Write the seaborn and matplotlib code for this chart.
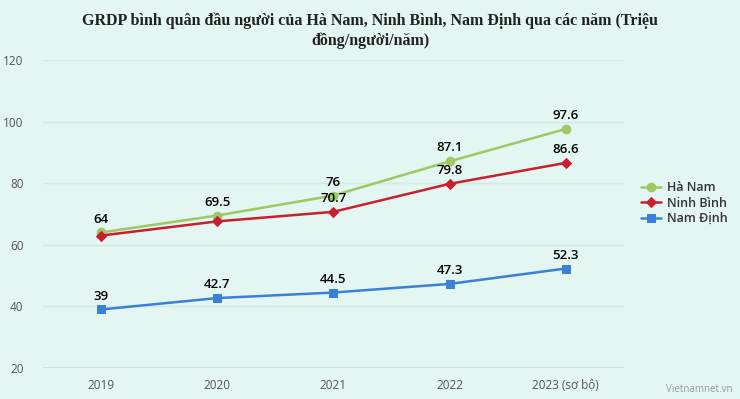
import numpy as np
import pandas as pd
import seaborn as sns
import matplotlib.pyplot as plt

# data
years = ['2019', '2020', '2021', '2022', '2023 (sơ bộ)']
ha_nam = [64, 69.5, 76, 87.1, 97.6]
ninh_binh = [63, 67.6, 70.7, 79.8, 86.6]
nam_dinh = [39, 42.7, 44.5, 47.3, 52.3]
series = ['Hà Nam', 'Ninh Bình', 'Nam Định']
colors = ['#9dc862', '#c9202f', '#3a80d6']
markers = ['o', 'D', 's']

df = pd.DataFrame({'Năm': years * 3,
                   'GRDP': ha_nam + ninh_binh + nam_dinh,
                   'Tỉnh': np.repeat(series, len(years))})
df['x'] = np.tile(np.arange(len(years)), 3)

bg = '#e3f6f1'
sns.set_theme(style='white')
plt.rcParams['font.family'] = ['Open Sans', 'DejaVu Sans']

fig = plt.figure(figsize=(7.4, 3.99), dpi=100, facecolor=bg)
ax = fig.add_axes([0.058, 0.0777, 0.785, 0.7719])
ax.set_facecolor(bg)

for name, c, m in zip(series, colors, markers):
    d = df[df['Tỉnh'] == name]
    ms = 4.8 if m == 'D' else 6.2
    sns.lineplot(data=d, x='x', y='GRDP', color=c, marker=m, markersize=ms,
                 markeredgecolor=c, linewidth=1.8, ax=ax, label=name)

# data labels (Ninh Bình labels hidden where they collide with Hà Nam)
def label(i, v):
    ax.annotate(f'{v:g}', (i, v), xytext=(0, 5), textcoords='offset points',
                ha='center', va='bottom', fontsize=9.5, fontweight='semibold', color='black')

for i in range(len(years)):
    label(i, ha_nam[i])
    if ha_nam[i] - ninh_binh[i] > 4:
        label(i, ninh_binh[i])
    label(i, nam_dinh[i])

ax.set_xlim(-0.5, 4.5)
ax.set_ylim(20, 120)
ax.set_yticks([20, 40, 60, 80, 100, 120])
ax.set_xticks(range(len(years)))
ax.set_xticklabels(years)
ax.grid(axis='y', color='#d3e9e4', linewidth=1)
ax.set_axisbelow(True)
for s in ax.spines.values():
    s.set_visible(False)
ax.axhline(20, color='#c6dbe6', linewidth=1.2, zorder=0)
ax.tick_params(axis='y', length=0, pad=14, labelsize=8.5, labelcolor='#555555')
ax.tick_params(axis='x', length=0, pad=8, labelsize=8.5, labelcolor='#555555')
ax.set_xlabel('')
ax.set_ylabel('')

leg = ax.legend(loc='center left', bbox_to_anchor=(1.01, 0.535), frameon=False,
                fontsize=9, handlelength=1.6, handletextpad=0.45, labelspacing=0.2)
for t in leg.get_texts():
    t.set_fontweight('semibold')
    t.set_color('#333333')

fig.text(0.5, 0.968, 'GRDP bình quân đầu người của Hà Nam, Ninh Bình, Nam Định qua các năm (Triệu\nđồng/người/năm)',
         ha='center', va='top', fontsize=11.5, fontweight='bold', family='Liberation Serif',
         color='#222222', linespacing=1.25)
fig.text(0.99, 0.01, 'Vietnamnet.vn', ha='right', va='bottom', fontsize=7, color='#999999')

fig.savefig('out.png', dpi=100, facecolor=bg)
